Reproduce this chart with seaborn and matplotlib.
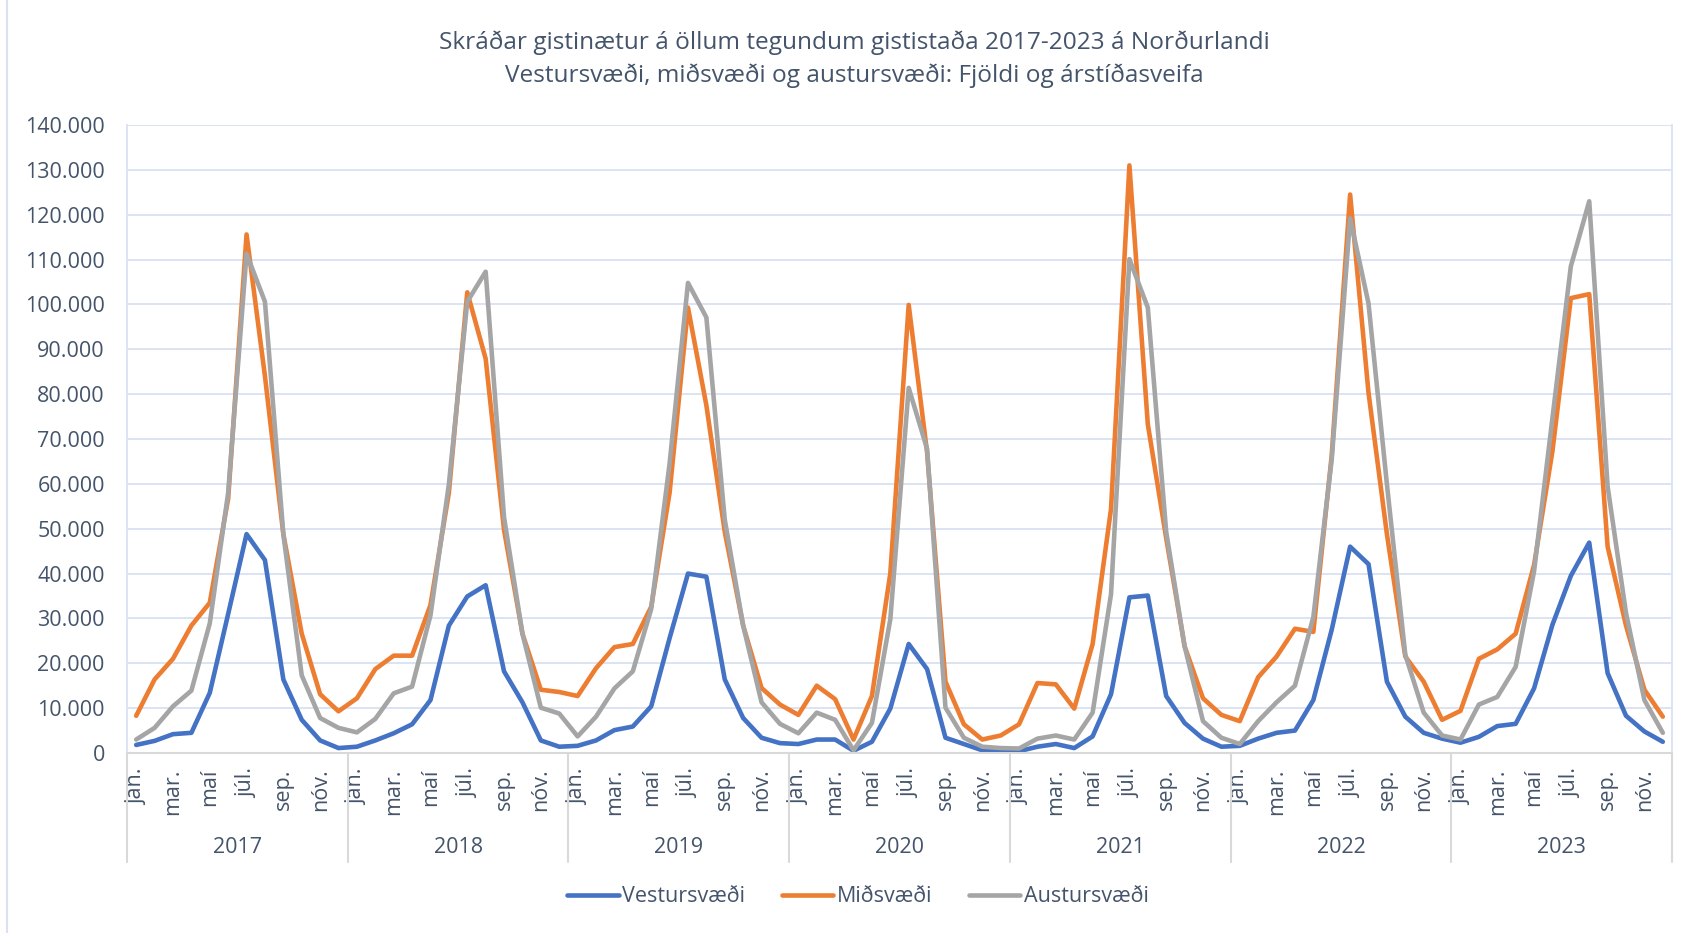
import pandas as pd
import matplotlib
matplotlib.use("Agg")
import matplotlib.pyplot as plt
import matplotlib.ticker as mticker
from matplotlib.lines import Line2D
import seaborn as sns

# Monthly registered overnight stays (thousands), jan 2017 .. dec 2023
years = [2017, 2018, 2019, 2020, 2021, 2022, 2023]
month_labels = ["jan.", "", "mar.", "", "maí", "", "júl.", "", "sep.", "", "nóv.", ""]
regions = ["Vestursvæði", "Miðsvæði", "Austursvæði"]

vestur = [
    1.8, 2.7, 4.2, 4.5, 13.4, 31.0, 48.8, 43.0, 16.4, 7.4, 2.8, 1.1,
    1.4, 2.8, 4.4, 6.4, 11.8, 28.4, 34.9, 37.4, 18.2, 11.3, 2.8, 1.4,
    1.6, 2.8, 5.1, 5.9, 10.4, 25.6, 40.0, 39.3, 16.4, 7.8, 3.4, 2.2,
    2.0, 3.0, 3.0, 0.5, 2.5, 9.9, 24.3, 18.7, 3.4, 2.0, 0.6, 0.5,
    0.4, 1.4, 2.0, 1.1, 3.7, 13.1, 34.7, 35.1, 12.7, 6.7, 3.2, 1.4,
    1.6, 3.2, 4.5, 5.0, 11.8, 27.5, 46.0, 42.1, 15.9, 8.1, 4.5, 3.2,
    2.3, 3.6, 6.0, 6.5, 14.4, 28.6, 39.5, 46.9, 17.8, 8.3, 4.8, 2.5,
]
mid = [
    8.3, 16.4, 21.0, 28.4, 33.5, 56.7, 115.6, 84.0, 48.8, 26.6, 13.1, 9.3,
    12.2, 18.7, 21.7, 21.7, 33.0, 58.0, 102.7, 87.9, 49.7, 26.6, 14.1, 13.6,
    12.7, 18.9, 23.6, 24.3, 32.6, 58.0, 99.3, 77.5, 49.3, 28.4, 14.5, 10.8,
    8.5, 15.0, 12.0, 3.0, 12.7, 40.0, 99.9, 67.0, 15.9, 6.4, 3.0, 3.9,
    6.4, 15.6, 15.3, 9.9, 24.3, 54.4, 131.0, 73.3, 47.9, 23.8, 12.2, 8.5,
    7.1, 16.9, 21.5, 27.7, 27.0, 66.4, 124.5, 80.3, 48.8, 21.5, 15.9, 7.4,
    9.4, 21.0, 23.1, 26.6, 41.9, 67.3, 101.4, 102.3, 46.0, 28.4, 14.1, 8.1,
]
austur = [
    3.0, 5.6, 10.4, 13.9, 28.9, 58.0, 111.3, 100.6, 48.8, 17.3, 7.8, 5.6,
    4.6, 7.6, 13.3, 14.8, 30.7, 59.9, 100.6, 107.3, 52.5, 26.6, 10.1, 8.8,
    3.7, 8.1, 14.4, 18.2, 32.1, 64.5, 104.8, 97.1, 52.0, 28.4, 11.3, 6.5,
    4.4, 9.0, 7.4, 0.6, 6.7, 29.8, 81.4, 67.8, 10.1, 3.4, 1.4, 1.1,
    1.0, 3.2, 3.9, 3.0, 9.0, 35.4, 110.1, 99.3, 49.3, 23.8, 7.1, 3.4,
    2.0, 7.1, 11.3, 15.0, 30.3, 65.5, 119.2, 100.2, 59.9, 21.9, 9.0, 3.9,
    3.0, 10.8, 12.5, 19.2, 40.5, 74.7, 108.5, 123.0, 59.4, 31.2, 11.8, 4.5,
]

colors = ["#4472C4", "#ED7D31", "#A5A5A5"]
text_col = "#44546A"
grid_col = "#D9E1F2"
axis_col = "#D9D9D9"
fs = 15.5

n = len(vestur)
rows = []
for name, vals in zip(regions, [vestur, mid, austur]):
    for i, v in enumerate(vals):
        rows.append({"idx": i, "svaedi": name, "gistinaetur": v * 1000})
df = pd.DataFrame(rows)

sns.set_theme(style="white")
plt.rcParams["font.family"] = ["Open Sans", "DejaVu Sans"]

fig = plt.figure(figsize=(16.86, 9.33), dpi=100)
ax = fig.add_axes([127 / 1686, 1 - 753 / 933, 1545 / 1686, 628 / 933])

sns.lineplot(data=df, x="idx", y="gistinaetur", hue="svaedi", hue_order=regions,
             palette=colors, linewidth=3.3, ax=ax,
             solid_joinstyle="round", solid_capstyle="round")

ax.set_xlim(-0.5, n - 0.5)
ax.set_ylim(0, 140000)
ax.set_yticks(range(0, 140001, 10000))
ax.yaxis.set_major_formatter(mticker.FuncFormatter(lambda v, p: f"{int(v):,}".replace(",", ".")))
ax.grid(axis="y", color=grid_col, linewidth=1.3)
ax.set_axisbelow(True)

ticks = [i for i in range(n) if month_labels[i % 12]]
ax.set_xticks(ticks)
ax.set_xticklabels([month_labels[i % 12] for i in ticks], rotation=90, va="top", ha="center")
ax.tick_params(axis="x", length=0, pad=11, labelsize=fs, colors=text_col)
ax.tick_params(axis="y", length=0, pad=16, labelsize=fs, colors=text_col)
ax.set_xlabel("")
ax.set_ylabel("")

for side in ["left", "right"]:
    ax.spines[side].set_color(grid_col)
    ax.spines[side].set_linewidth(1.3)
ax.spines["top"].set_visible(False)
ax.spines["bottom"].set_color(axis_col)
ax.spines["bottom"].set_linewidth(1.5)

# year separators and year labels under the month labels
trans = ax.get_xaxis_transform()
for k in range(len(years) + 1):
    ax.plot([k * 12 - 0.5] * 2, [0, -0.174], transform=trans, color=axis_col,
            linewidth=1.5, clip_on=False)
for k, yr in enumerate(years):
    ax.text(k * 12 + 5.5, -0.15, str(yr), transform=trans, ha="center", va="center",
            fontsize=fs, color=text_col)

sns.move_legend(ax, "center", bbox_to_anchor=(0.473, -0.229), ncol=3, frameon=False,
                title=None, fontsize=fs, handlelength=2.4, handletextpad=0.15,
                columnspacing=1.7)
for t in ax.get_legend().get_texts():
    t.set_color(text_col)
for h in ax.get_legend().get_lines():
    h.set_solid_capstyle("round")

fig.text(0.507, 1 - 43 / 933, "Skráðar gistinætur á öllum tegundum gististaða 2017-2023 á Norðurlandi",
         ha="center", va="center", fontsize=17.6, color=text_col)
fig.text(0.507, 1 - 76 / 933, "Vestursvæði, miðsvæði og austursvæði: Fjöldi og árstíðasveifa",
         ha="center", va="center", fontsize=17.6, color=text_col)

fig.add_artist(Line2D([7 / 1686, 7 / 1686], [0, 1], transform=fig.transFigure,
                      color=grid_col, linewidth=1.5))

fig.savefig("out.png", dpi=100)
